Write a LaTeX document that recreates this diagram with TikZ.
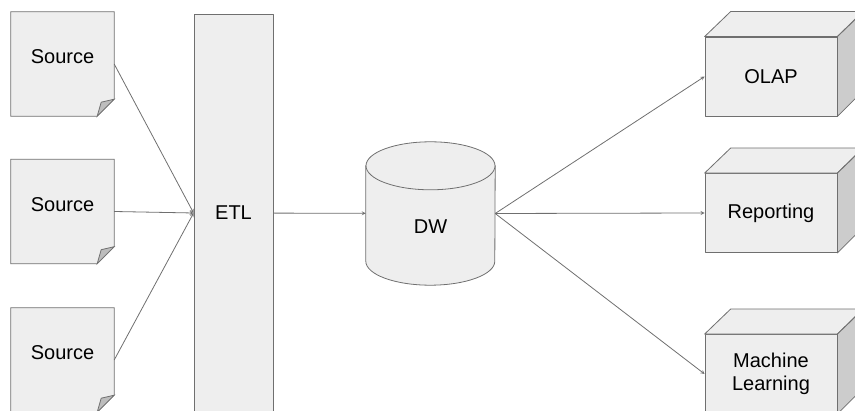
\documentclass[tikz,border=0pt]{standalone}
\usepackage{fontspec}
\setmainfont{Liberation Sans}
\usetikzlibrary{arrows,backgrounds}
\definecolor{boxfill}{HTML}{EEEEEE}
\definecolor{boxline}{HTML}{6F6F6F}
\definecolor{foldfill}{HTML}{BDBDBD}
\definecolor{sidefill}{HTML}{CCCCCC}
\begin{document}
\begin{tikzpicture}[x=1pt, y=-1pt, font=\fontsize{20}{23}\selectfont, line join=round, >=stealth,
  doc/.style={minimum width=103pt, minimum height=104pt, inner sep=0pt, text height=12pt, text depth=12pt},
  front/.style={draw=boxline, fill=boxfill, line width=0.8pt, minimum width=132pt, minimum height=79pt, inner sep=0pt, align=center},
  edge/.style={draw=boxline, line width=0.8pt},
  link/.style={->, draw=boxline, line width=0.8pt}]
\useasboundingbox (0,0) rectangle (855,411);
% sources, ETL, warehouse
\node[doc] (src1) at (62.5,64) {Source};
\node[doc] (src2) at (62.5,211.5) {Source};
\node[doc] (src3) at (62.5,360) {Source};
\node[edge, fill=boxfill, minimum width=79pt, minimum height=398pt, inner sep=0pt] (etl) at (233.5,213) {ETL};
\node[minimum width=129pt, minimum height=143pt, inner sep=0pt, text height=40pt, text depth=0pt] (dw) at (430.5,213.5) {DW};
% consumers
\node[front] (olap) at (771,76.5) {OLAP};
\node[front] (rep) at (771,213) {Reporting};
\node[front] (ml) at (771,374) {Machine\\Learning};
\begin{pgfonlayer}{background}
\foreach \s in {src1,src2,src3}{
  \path[edge, fill=boxfill] (\s.north west) -- (\s.north east) -- ([yshift=17pt]\s.south east) -- ([xshift=-17pt]\s.south east) -- (\s.south west) -- cycle;
  \path[edge, fill=foldfill] ([yshift=17pt]\s.south east) -- ([xshift=-13pt,yshift=14pt]\s.south east) -- ([xshift=-17pt]\s.south east) -- cycle;
}
\path[edge, fill=boxfill] ([yshift=-24pt]dw.north west) -- ([yshift=24pt]dw.south west) arc[start angle=180, end angle=0, x radius=64.5, y radius=24] -- ([yshift=-24pt]dw.north east) -- cycle;
\path[edge, fill=boxfill] ([yshift=-24pt]dw.north) ellipse[x radius=64.5, y radius=24];
\end{pgfonlayer}
\foreach \b in {olap,rep,ml}{
  \path[edge, fill=boxfill] (\b.north west) -- ++(26,-25) -- ++(132,0) -- (\b.north east) -- cycle;
  \path[edge, fill=sidefill] (\b.north east) -- ++(26,-25) -- ++(0,79) -- (\b.south east) -- cycle;
}
% connectors
\foreach \s in {src1,src2,src3} \draw[link] (\s.east) -- (etl.west);
\draw[link] (etl) -- (dw);
\foreach \b in {olap,rep,ml} \draw[link] (dw.east) -- (\b.west);
\end{tikzpicture}
\end{document}
